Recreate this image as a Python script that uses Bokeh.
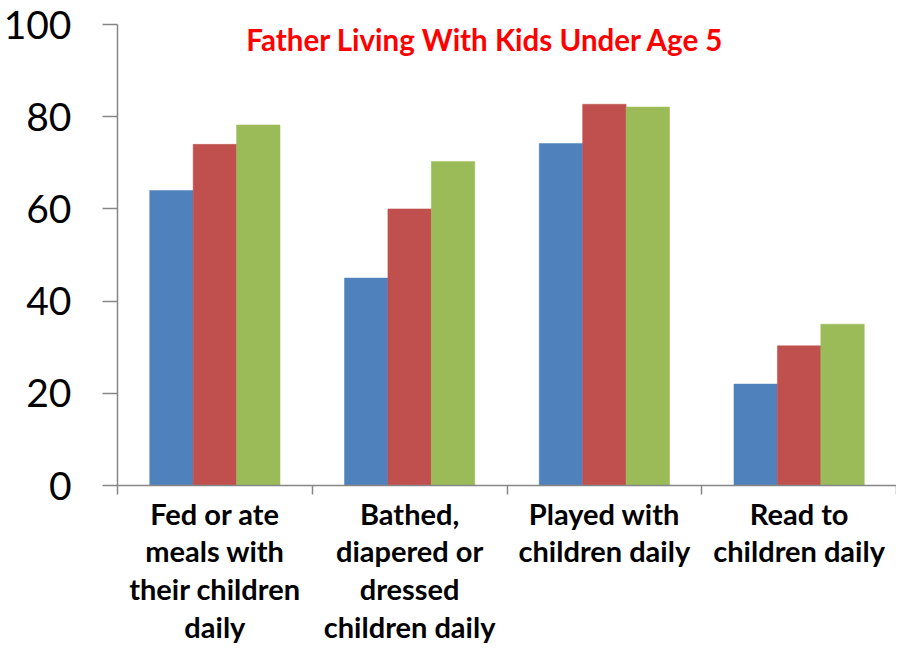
from bokeh.plotting import figure
from bokeh.models import Range1d, FixedTicker, Label, LinearAxis
from bokeh.embed import file_html
from bokeh.resources import INLINE

categories = ["Fed or ate\nmeals with\ntheir children\ndaily",
              "Bathed,\ndiapered or\ndressed\nchildren daily",
              "Played with\nchildren daily",
              "Read to\nchildren daily"]
series_blue = [64, 45, 74.2, 22]
series_red = [74, 60, 82.7, 30.3]
series_green = [78.2, 70.3, 82.1, 35]
colors = ["#4F81BD", "#C0504D", "#9BBB59"]
y_ticks = [0, 20, 40, 60, 80, 100]
title_text = "Father Living With Kids Under Age 5"

p = figure(width=896, height=646, output_backend="svg", toolbar_location=None,
           x_range=Range1d(0, len(categories)), y_range=Range1d(0, 100),
           min_border_left=114, min_border_top=24, min_border_bottom=158,
           min_border_right=0, x_axis_type=None, y_axis_type=None)
p.outline_line_color = None
p.background_fill_color = "white"
p.border_fill_color = "white"

bw = 0.223
offs = [-bw, 0, bw]
for s, c, o in zip([series_blue, series_red, series_green], colors, offs):
    xs = [i + 0.5 + o for i in range(len(categories))]
    p.vbar(x=xs, top=s, bottom=0, width=bw, fill_color=c, line_color=c, line_width=0.5)

# y axis
yax = LinearAxis(ticker=FixedTicker(ticks=y_ticks))
yax.axis_line_color = "#868686"
yax.axis_line_width = 1.5
yax.major_tick_line_color = "#868686"
yax.major_tick_line_width = 1.5
yax.major_tick_out = 15
yax.major_tick_in = 0
yax.minor_tick_line_color = None
yax.major_label_text_font = "Lato"
yax.major_label_text_font_size = "39px"
yax.major_label_text_color = "black"
yax.major_label_standoff = 31
p.add_layout(yax, "left")

# x axis
xax = LinearAxis(ticker=FixedTicker(ticks=[i + 0.5 for i in range(len(categories))],
                                    minor_ticks=list(range(len(categories) + 1))))
xax.major_label_overrides = {i + 0.5: c for i, c in enumerate(categories)}
xax.axis_line_color = "#868686"
xax.axis_line_width = 1.5
xax.major_tick_line_color = None
xax.minor_tick_line_color = "#868686"
xax.minor_tick_line_width = 1.5
xax.minor_tick_out = 9
xax.minor_tick_in = 0
xax.major_label_text_font = "Lato"
xax.major_label_text_font_style = "bold"
xax.major_label_text_font_size = "29px"
xax.major_label_text_line_height = 1.08
xax.major_label_text_color = "black"
xax.major_label_standoff = 1
p.add_layout(xax, "below")

p.ygrid.ticker = FixedTicker(ticks=y_ticks[1:])
p.xgrid.visible = False
p.ygrid.grid_line_color = "#8c8c8c"
p.ygrid.grid_line_width = 1.5

p.add_layout(Label(x=1.89, y=96.7, text=title_text, text_align="center",
                   text_baseline="alphabetic", text_font="Lato", text_font_style="bold",
                   text_font_size="29.5px", text_color="#FF0000"))

open("out.html", "w").write(file_html(p, INLINE))
